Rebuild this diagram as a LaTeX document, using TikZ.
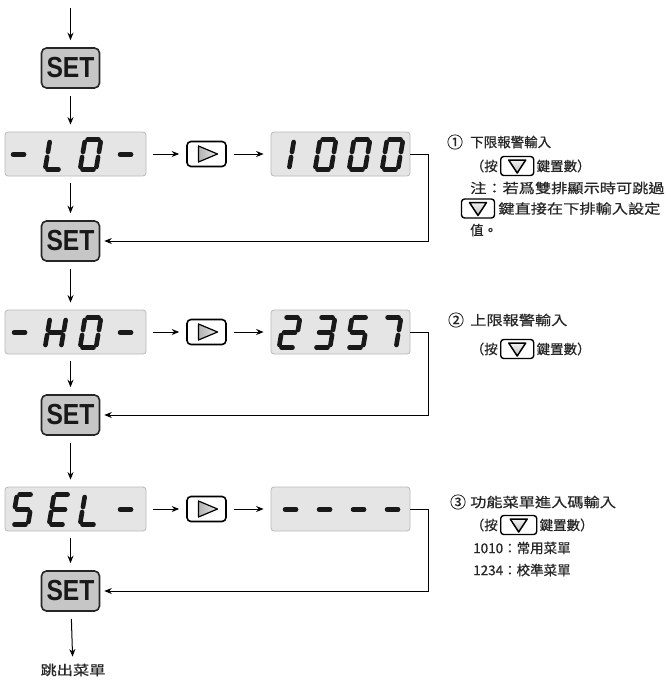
\documentclass[tikz,border=0pt]{standalone}
\usepackage{fontspec}
\usepackage{tikz}
\usetikzlibrary{positioning, arrows.meta}
\newfontfamily\cjkfont[FakeBold=0.6]{Noto Sans CJK TC}
\newfontfamily\cjkwidefont[FakeStretch=1.2, FakeBold=0.6]{Noto Sans CJK TC}
\newfontfamily\setkeyfont[FakeStretch=0.85]{Liberation Sans}

\tikzset{
  lcd a/.style={insert path={(2.5,-30) -- (13.5,-30)}},
  lcd b/.style={insert path={(16,-27.5) -- (16,-17.5)}},
  lcd c/.style={insert path={(16,-12.5) -- (16,-2.5)}},
  lcd d/.style={insert path={(2.5,0) -- (13.5,0)}},
  lcd e/.style={insert path={(0,-2.5) -- (0,-12.5)}},
  lcd f/.style={insert path={(0,-17.5) -- (0,-27.5)}},
  lcd g/.style={insert path={(2.5,-15) -- (13.5,-15)}},
}

\newcommand{\lcddigit}[3]{%
  \edef\seglist{#3}%
  \begin{scope}[shift={(#1,#2)}, xslant=0.17]
    \foreach \s in \seglist {\draw[seg, lcd \s];}
  \end{scope}}

\begin{document}
\begin{tikzpicture}[x=1pt, y=-1pt, >={Stealth[length=7.5pt, width=6pt]},
  panel/.style={draw=gray!55, fill=gray!20, line width=0.8pt, rounded corners=3pt, minimum height=44pt},
  seg/.style={line width=4.6pt, line cap=round, color=black!90},
  setkey/.style={draw=black!85, line width=1.6pt, fill=gray!45, rounded corners=5pt,
    minimum width=58pt, minimum height=40pt, inner sep=0pt, text=black!90,
    font=\setkeyfont\bfseries\fontsize{29}{29}\selectfont},
  rightkey/.style={draw, line width=1.6pt, rounded corners=4pt, fill=white,
    minimum width=39pt, minimum height=25pt, inner sep=0pt,
    path picture={\shadedraw[sharp corners, left color=gray!85, right color=white, line width=1.2pt, line join=round]
      ([shift={(-8,-8)}]path picture bounding box.center)
      -- ([shift={(11,0)}]path picture bounding box.center)
      -- ([shift={(-8,8)}]path picture bounding box.center) -- cycle;}},
  downkey/.style={draw, line width=1.4pt, rounded corners=3pt, fill=white,
    minimum width=33pt, minimum height=19pt, inner sep=0pt,
    path picture={\shadedraw[sharp corners, top color=white, bottom color=gray!60, line width=1.5pt, line join=round]
      ([shift={(-8.5,-6)}]path picture bounding box.center)
      -- ([shift={(8.5,-6)}]path picture bounding box.center)
      -- ([shift={(0,7)}]path picture bounding box.center) -- cycle;}},
  flow/.style={->, line width=1pt, shorten <=7pt, shorten >=7pt},
  back/.style={->, line width=1pt, shorten >=4pt},
  note/.style={font=\cjkfont\fontsize{13.5}{16}\selectfont, text=black!85, inner sep=0pt, anchor=west},
  notew/.style={note, font=\cjkwidefont\fontsize{13.5}{16}\selectfont},
  numb/.style={note, anchor=center, font=\cjkfont\fontsize{16}{16}\selectfont}]

  \useasboundingbox (0,0) rectangle (666,681);

  \coordinate (entry) at (70.5,8);
  \node[setkey] (set1) at (70.5,68) {SET};
  \node[setkey] (set2) at (70.5,241) {SET};
  \node[setkey] (set3) at (70.5,415) {SET};
  \node[setkey] (set4) at (70.5,591) {SET};

  \foreach \n/\y/\t in {lo/154/set2, hi/332/set3, sel/509/set4} {
    \node[panel, minimum width=141pt] (\n) at (75.5,\y) {};
    \node[rightkey] (\n key) at (206.5,\y) {};
    \node[panel, minimum width=139pt] (\n val) at (340.5,\y) {};
    \draw[flow] (\n) -- (\n key);
    \draw[flow] (\n key) -- (\n val);
    \draw[flow] (\t |- \n.south) -- (\t);
    \draw[back] (\n val.east) -- ++(18,0) |- (\t);
  }
  \foreach \a/\b in {set1/lo, set2/hi, set3/sel} {\draw[flow] (\a) -- (\a |- \b.north);}
  \draw[flow, shorten <=0pt] (entry) -- (set1);

  \foreach \x/\sg in {8/g, 45/{f,e,d}, 80/{a,b,c,d,e,f}, 115/g} {\lcddigit{\x}{169.5}{\sg}}
  \foreach \x/\sg in {273/{b,c}, 315/{a,b,c,d,e,f}, 349/{a,b,c,d,e,f}, 382/{a,b,c,d,e,f}} {\lcddigit{\x}{169.5}{\sg}}
  \foreach \x/\sg in {9/g, 45/{f,e,g,b,c}, 80/{a,b,c,d,e,f}, 115/g} {\lcddigit{\x}{347.5}{\sg}}
  \foreach \x/\sg in {279/{a,b,g,e,d}, 314/{a,b,g,c,d}, 347/{a,f,g,c,d}, 380/{a,b,c}} {\lcddigit{\x}{347.5}{\sg}}
  \foreach \x/\sg in {12/{a,f,g,c,d}, 49/{a,f,g,e,d}, 80/{f,e,d}, 115/g} {\lcddigit{\x}{524.5}{\sg}}
  \foreach \x in {280,314,348,382} {\lcddigit{\x}{524.5}{g}}

  \node[numb] (num1) at (455,142) {①};
  \node[note] at (470,142) {下限報警輸入};
  \node[note, anchor=east] (p1) at (498,166) {（按};
  \node[downkey, right=2pt of p1] (k1) {};
  \node[note, right=2pt of k1] {鍵置數）};
  \node[notew] at (470,188) {注：若爲雙排顯示時可跳過};
  \node[downkey] (k1b) at (478,208.5) {};
  \node[notew, right=3pt of k1b] {鍵直接在下排輸入設定};
  \node[note] at (470,230) {值。};

  \node[numb] (num2) at (456,320) {②};
  \node[notew] at (470,320) {上限報警輸入};
  \node[note, anchor=east] (p2) at (498,349) {（按};
  \node[downkey, right=2pt of p2] (k2) {};
  \node[note, right=2pt of k2] {鍵置數）};

  \node[numb] (num3) at (458,502) {③};
  \node[notew] at (470,502) {功能菜單進入碼輸入};
  \node[note, anchor=east] (p3) at (498,525) {（按};
  \node[downkey, right=2pt of p3, minimum width=36pt] (k3) {};
  \node[note, right=2pt of k3] {鍵置數）};
  \node[note] at (473,548) {1010：常用菜單};
  \node[note] at (473,570) {1234：校準菜單};

  \node[notew, anchor=center] (quit) at (73,670) {跳出菜單};
  \draw[flow] (set4) -- (quit);
\end{tikzpicture}
\end{document}
